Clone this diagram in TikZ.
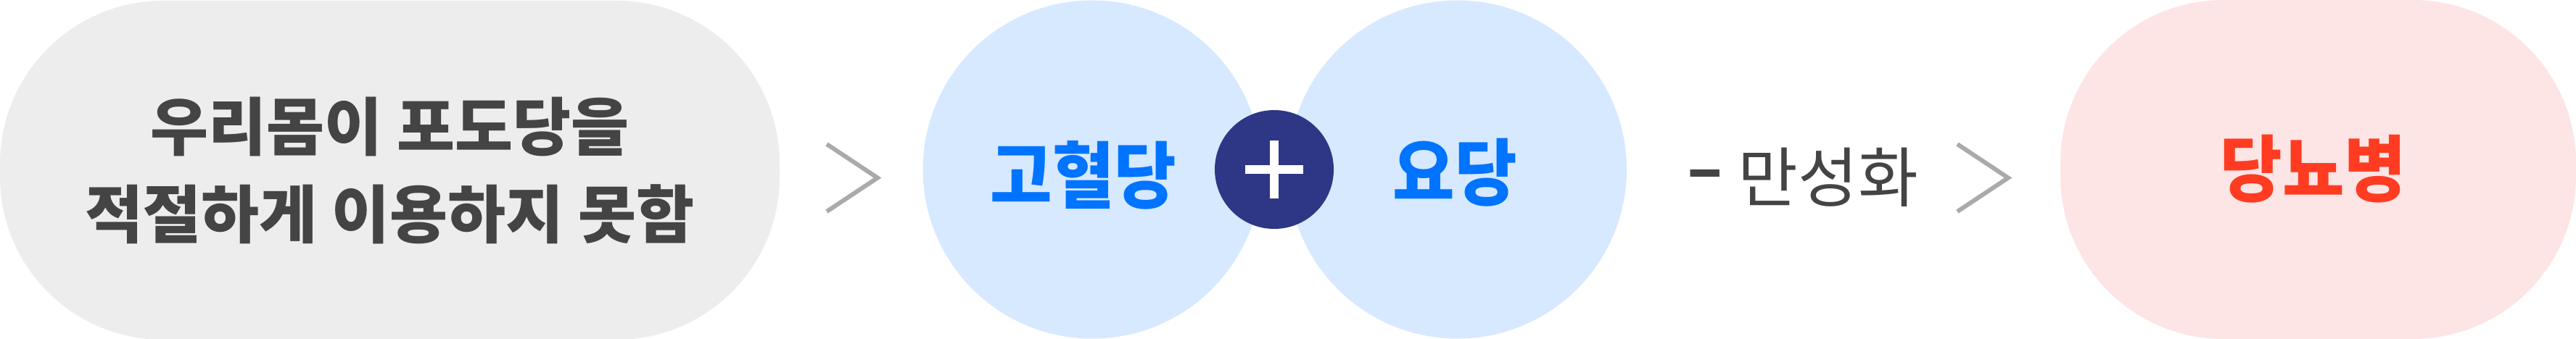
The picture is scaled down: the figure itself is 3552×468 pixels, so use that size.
\documentclass[tikz,border=0pt]{standalone}
\usepackage{fontspec}
\newfontfamily\kr{Noto Sans CJK KR}
\newfontfamily\krn[FakeStretch=0.93]{Noto Sans CJK KR}
\definecolor{pillgray}{HTML}{EDEDED}
\definecolor{txtgray}{HTML}{444444}
\definecolor{lightblue}{HTML}{D7E9FF}
\definecolor{bluetxt}{HTML}{0073FF}
\definecolor{navy}{HTML}{2D3785}
\definecolor{pinkbg}{HTML}{FDE5E5}
\definecolor{redtxt}{HTML}{FF3C22}
\definecolor{chevgray}{HTML}{AAAAAA}
\tikzset{
  pill/.style={rounded corners=56.25pt, minimum height=117pt, inner sep=0pt},
  bubble/.style={circle, fill=lightblue, minimum size=116.75pt, inner sep=0pt},
  bigbold/.style={inner sep=0pt, font=\krn\bfseries\fontsize{25}{30}\selectfont},
  chev/.style={draw=chevgray, line width=1.5pt, line join=miter},
}
\begin{document}
\begin{tikzpicture}[x=0.25pt,y=-0.25pt]
\useasboundingbox (0,0) rectangle (3552,468);
% left pill
\node[pill, fill=pillgray, minimum width=268.75pt, text=txtgray, align=center,
      font=\kr\bfseries\fontsize{21.75}{30.25}\selectfont] (cause) at (537.5,235)
      {우리몸이 포도당을\\적절하게 이용하지 못함};
% chevron 1
\coordinate (c1a) at (1140,199);
\coordinate (c1b) at (1210,245.5);
\coordinate (c1c) at (1140,292);
\draw[chev] (c1a) -- (c1b) -- (c1c);
% blue bubbles
\node[bubble] (hyper) at (1506,234) {};
\node[bubble] (urine) at (2009.5,234) {};
\node[bigbold, text=bluetxt] (hypertxt) at (1494,242) {고혈당};
\node[bigbold, text=bluetxt] (urinetxt) at (2006,238) {요당};
% plus circle
\node[circle, fill=navy, minimum size=41pt, inner sep=0pt] (plus) at (1757,234) {};
\draw[white, line width=3pt] ([yshift=10.1pt]plus.center) -- ([yshift=-10.1pt]plus.center);
\draw[white, line width=3pt] ([xshift=-10.1pt]plus.center) -- ([xshift=10.1pt]plus.center);
% chronic
\node[inner sep=0pt, text=txtgray, font=\kr\fontsize{22.5}{27}\selectfont, anchor=west] (chronic) at (2326,245) {\raisebox{3.2pt}{\bfseries –} 만성화};
% chevron 2
\coordinate (c2a) at (2699,199);
\coordinate (c2b) at (2769,245.5);
\coordinate (c2c) at (2699,292);
\draw[chev] (c2a) -- (c2b) -- (c2c);
% pink pill
\node[pill, fill=pinkbg, minimum width=177.75pt] (diabetes) at (3196.5,234) {};
\node[bigbold, text=redtxt] (diabtxt) at (3190,233) {당뇨병};
\end{tikzpicture}
\end{document}
